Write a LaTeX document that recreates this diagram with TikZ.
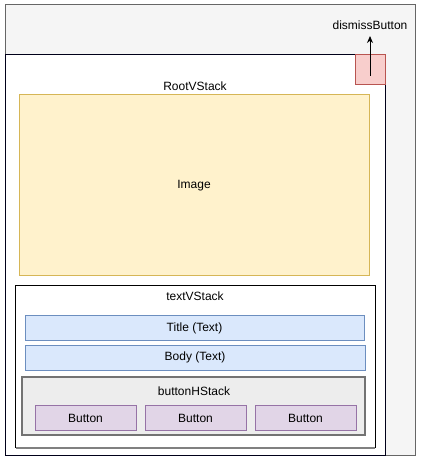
\documentclass[tikz,border=0pt]{standalone}
\usepackage{fontspec}
\setmainfont{Liberation Sans}
\usetikzlibrary{arrows.meta}
\begin{document}
\begin{tikzpicture}[x=1pt,y=-1pt,
  lbl/.style={font=\fontsize{12}{14}\selectfont, inner sep=0pt, text=black},
  box/.style={line width=1pt},
]
\useasboundingbox (0,0) rectangle (421,462);
% outer gray panel
\draw[box, draw=black!60, fill=black!4] (5,5) rectangle (415,455);
% root white panel
\draw[box, draw=black!90!blue, fill=white] (5,55) rectangle (385,455);
\node[lbl] (root) at (195,86) {RootVStack};
% image
\draw[box, draw={rgb,255:red,214;green,182;blue,86}, fill={rgb,255:red,255;green,242;blue,204}] (19,95) rectangle (369,275);
\node[lbl] (img) at (194,186) {Image};
% textVStack with bottom shadow
\draw[box, draw=black, fill=white] (15,285) rectangle (375,447);
\draw[line width=2pt, draw=black!50] (16,448) -- (375,448);
\node[lbl] (tvs) at (195,296) {textVStack};
% title and body
\draw[box, draw={rgb,255:red,108;green,142;blue,191}, fill={rgb,255:red,218;green,232;blue,252}] (25,315) rectangle (364,340);
\node[lbl] (title) at (194.5,328) {Title (Text)};
\draw[box, draw={rgb,255:red,108;green,142;blue,191}, fill={rgb,255:red,218;green,232;blue,252}] (25,345) rectangle (365,370);
\node[lbl] (body) at (195,357.5) {Body (Text)};
% buttonHStack
\draw[line width=1.5pt, draw=black!55, fill=black!7] (22,377) rectangle (365,435);
\node[lbl] (bhs) at (194,391) {buttonHStack};
% buttons
\foreach \x/\n in {35/b1,145/b2,255/b3}{
  \draw[box, draw={rgb,255:red,150;green,115;blue,166}, fill={rgb,255:red,225;green,213;blue,231}] (\x,405) rectangle (\x+101,430);
  \node[lbl] (\n) at (\x+50.5,418) {Button};
}
% dismiss button
\node[draw={rgb,255:red,184;green,84;blue,80}, fill={rgb,255:red,248;green,206;blue,204}, line width=1pt, minimum width=30pt, minimum height=30pt, inner sep=0pt] (dbtn) at (370,70) {};
\node[lbl] (dlbl) at (370,25) {dismissButton};
\coordinate (dstart) at (370,76);
\draw[line width=1pt, -{Stealth[length=7pt,width=6pt]}] (dstart) -- (dlbl.south |- 0,36);
\end{tikzpicture}
\end{document}
